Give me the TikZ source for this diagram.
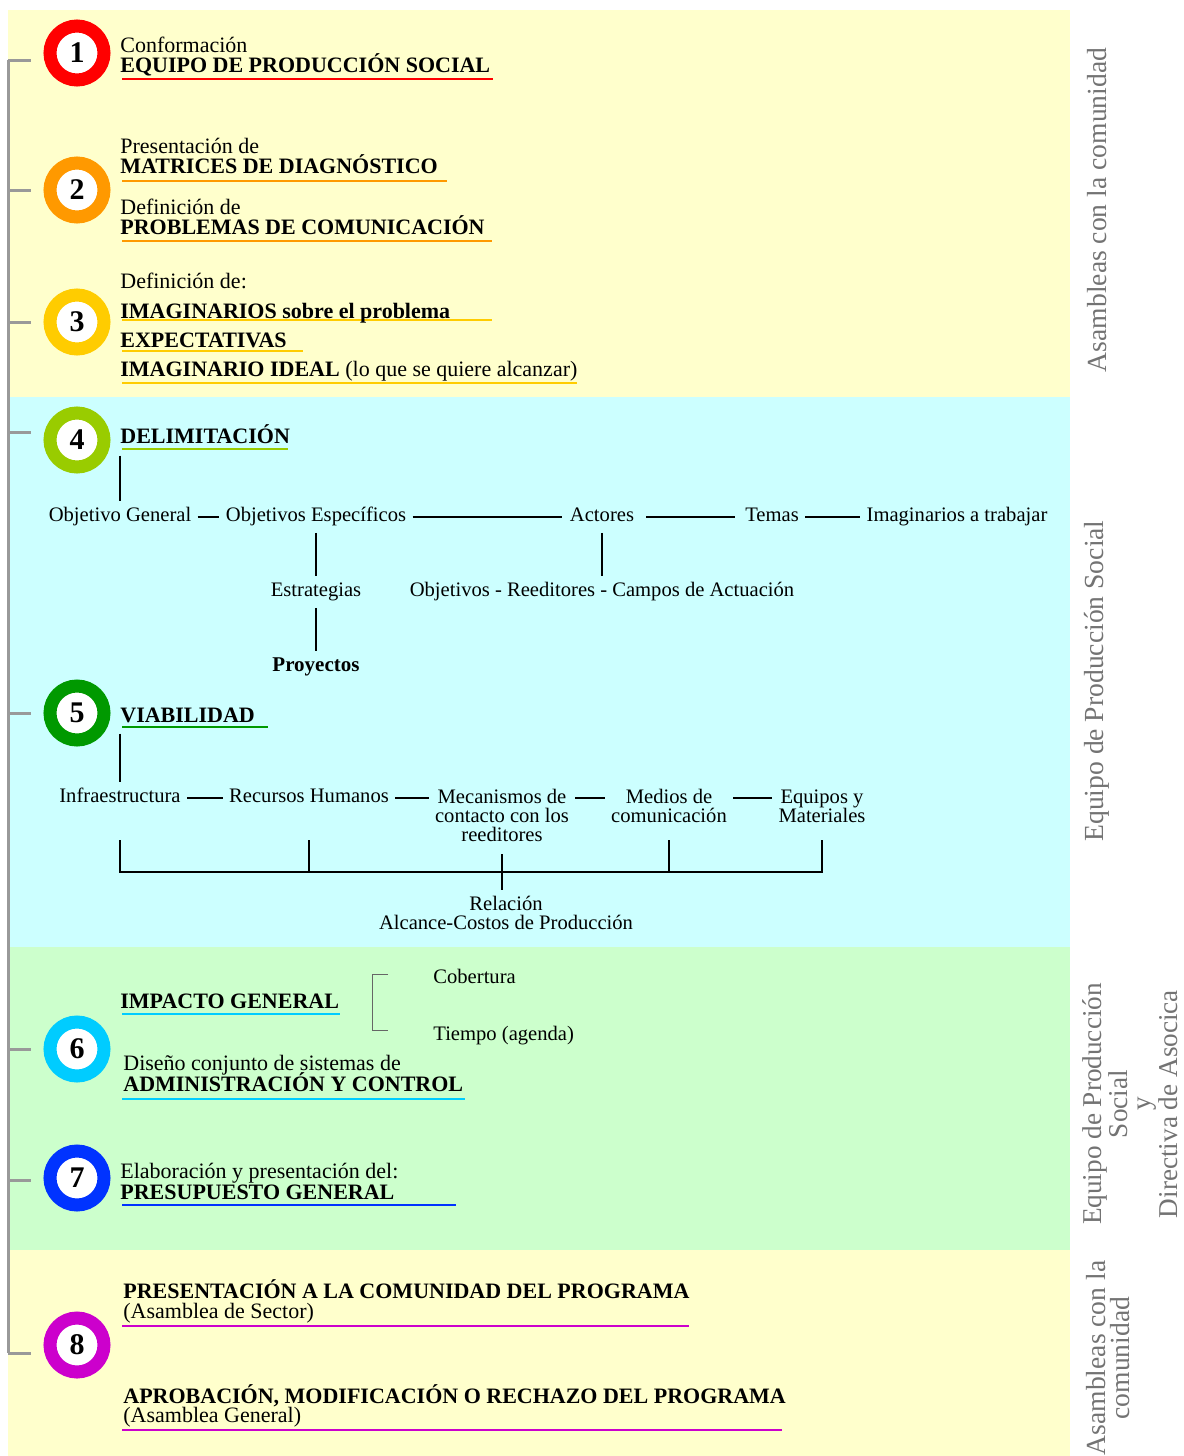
\documentclass[tikz,border=0pt]{standalone}
\usepackage{fontspec}
\setmainfont{Liberation Serif}
\definecolor{amarillo}{HTML}{FFFFCC}
\definecolor{celeste}{HTML}{CCFFFF}
\definecolor{verdeclaro}{HTML}{CCFFCC}
\definecolor{rojo}{HTML}{FF0000}
\definecolor{naranja}{HTML}{FF9900}
\definecolor{oro}{HTML}{FFCC00}
\definecolor{lima}{HTML}{99CC00}
\definecolor{verde}{HTML}{009900}
\definecolor{cian}{HTML}{00CCFF}
\definecolor{azul}{HTML}{0033FF}
\definecolor{magenta}{HTML}{CC00CC}
\tikzset{
    paso/.style={circle,draw=#1,line width=6.5pt,fill=white,minimum size=27pt,inner sep=0pt,font=\fontsize{15}{15}\selectfont\bfseries},
    txt/.style={anchor=base west,inner sep=0pt,font=\fontsize{11}{13}\selectfont},
    tit/.style={anchor=base west,inner sep=0pt,font=\fontsize{11}{13}\selectfont\bfseries},
    subr/.style={line width=1pt,draw=#1},
    elem/.style={font=\fontsize{10.3}{9.5}\selectfont,inner sep=3pt,text height=7pt,text depth=2.5pt},
    elemm/.style={font=\fontsize{10.3}{9.5}\selectfont,inner sep=3pt,align=center,anchor=north},
    linea/.style={line width=0.7pt},
    llave/.style={line width=0.5pt,draw=black!60},
    lado/.style={rotate=90,text=black!55,font=\fontsize{13.8}{12}\selectfont,align=center},
    tronco/.style={line width=1.5pt,draw=black!40}
}
\begin{document}
\begin{tikzpicture}[x=0.5pt,y=-0.5pt]
        \useasboundingbox(0,0)rectangle(1183,1456);
        \fill[amarillo](8,10)rectangle(1070,397);
        \fill[celeste](8,397)rectangle(1070,947);
        \fill[verdeclaro](8,947)rectangle(1070,1250);
        \fill[amarillo](8,1250)rectangle(1070,1456);
        \draw[tronco](8,60)--(8,1353);
        \foreach \n/\y/\c in {1/53/rojo,2/190/naranja,3/322/oro,4/440/lima,5/713/verde,6/1049/cian,7/1178/azul,8/1345/magenta}
            {
                \node[paso=\c] (c\n) at (77,\y) {\n};
            }
        \foreach \n/\y in {1/60,2/190,3/322,4/432,5/713,6/1049,7/1180,8/1353}
            {
                \draw[tronco,shorten >=6.25pt](8,\y)--(c\n.west |- 8,\y);
            }
        \foreach \c/\y/\xb in {rojo/79/493,naranja/181/447,naranja/241/492,oro/320/492,oro/351/303,oro/383/577,lima/449/288,verde/727/268,cian/1014/340,cian/1099/465,azul/1205/456,magenta/1326/689,magenta/1430/782}
            {
                \draw[subr=\c](122,\y)--(\xb,\y);
            }
        \node[txt] (t1a) at (120,52) {Conformación};
        \node[tit] (t1b) at (120,72) {EQUIPO DE PRODUCCIÓN SOCIAL};
        \node[txt] (t2a) at (120,153) {Presentación de};
        \node[tit] (t2b) at (120,173) {MATRICES DE DIAGNÓSTICO};
        \node[txt] (t2c) at (120,214) {Definición de};
        \node[tit] (t2d) at (120,234) {PROBLEMAS DE COMUNICACIÓN};
        \node[txt] (t3a) at (120,288) {Definición de:};
        \node[tit] (t3b) at (120,318) {IMAGINARIOS sobre el problema};
        \node[tit] (t3c) at (120,347) {EXPECTATIVAS};
        \node[tit] (t3d) at (120,376) {IMAGINARIO IDEAL \textmd{(lo que se quiere alcanzar)}};
        \node[tit] (t4) at (120,443) {DELIMITACIÓN};
        \node[elem] (og) at (120,517) {Objetivo General};
        \node[elem] (oe) at (316,517) {Objetivos Específicos};
        \node[elem] (act) at (602,517) {Actores};
        \node[elem] (tem) at (772,517) {Temas};
        \node[elem] (ima) at (957,517) {Imaginarios a trabajar};
        \node[elem] (est) at (316,592) {Estrategias};
        \node[elem,font=\fontsize{10.5}{9.5}\selectfont\bfseries] (proy) at (316,667) {Proyectos};
        \node[elem] (ore) at (602,592) {Objetivos - Reeditores - Campos de Actuación};
        \draw[linea]([yshift=-6pt]t4.south west)--(og);
        \draw[linea](og)--(oe);
        \draw[linea,shorten >=1pt](oe)--(act);
        \draw[linea,shorten <=3pt,shorten >=2pt](act)--(tem);
        \draw[linea](tem)--(ima);
        \draw[linea](oe)--(est);
        \draw[linea](est)--(proy);
        \draw[linea](act)--(ore);
        \node[tit] (t5) at (120,722) {VIABILIDAD};
        \node[elem] (inf) at (120,798) {Infraestructura};
        \node[elem] (rh) at (309,798) {Recursos Humanos};
        \node[elemm] (mec) at (502,783) {Mecanismos de\\contacto con los\\reeditores};
        \node[elemm] (med) at (669,783) {Medios de\\comunicación};
        \node[elemm] (eqm) at (822,783) {Equipos y\\Materiales};
        \node[elemm] (rel) at (506,890) {Relación\\Alcance-Costos de Producción};
        \draw[linea]([yshift=-5.5pt]t5.south west)--(inf);
        \draw[linea](inf)--(rh);
        \draw[linea](rh)--(mec.west |- rh);
        \draw[linea](mec.east |- rh)--(med.west |- rh);
        \draw[linea](med.east |- rh)--(eqm.west |- rh);
        \draw[linea](inf |- 0,840)--(inf |- 0,872)--(eqm |- 0,872)--(eqm |- 0,840);
        \draw[linea](rh |- 0,840)--(rh |- 0,872);
        \draw[linea](med |- 0,840)--(med |- 0,872);
        \draw[linea,shorten <=3pt](mec.south)--(mec.south |- rel.north);
        \node[tit] (t6a) at (120,1008) {IMPACTO GENERAL};
        \node[txt,font=\fontsize{10.3}{12}\selectfont] (cob) at (433,983) {Cobertura};
        \node[txt,font=\fontsize{10.3}{12}\selectfont] (tie) at (433,1040) {Tiempo (agenda)};
        \draw[llave](388,974)--(372,974)--(372,1030)--(388,1030);
        \node[txt] (t6b) at (123,1070) {Diseño conjunto de sistemas de};
        \node[tit] (t6c) at (123,1091) {ADMINISTRACIÓN Y CONTROL};
        \node[txt] (t7a) at (120,1178) {Elaboración y presentación del:};
        \node[tit] (t7b) at (120,1199) {PRESUPUESTO GENERAL};
        \node[tit] (t8a) at (123,1298) {PRESENTACIÓN A LA COMUNIDAD DEL PROGRAMA};
        \node[txt] (t8b) at (123,1318) {(Asamblea de Sector)};
        \node[tit] (t8c) at (123,1403) {APROBACIÓN, MODIFICACIÓN O RECHAZO DEL PROGRAMA};
        \node[txt] (t8d) at (123,1422) {(Asamblea General)};
        \node[lado] (l1) at (1097,210) {Asambleas con la comunidad};
        \node[lado] (l2) at (1097,681) {Equipo de Producción Social};
        \node[lado,font=\fontsize{13.6}{11.6}\selectfont] (l3) at (1130,1104) {Equipo de Producción\\Social\\y\\Directiva de Asocica};
        \node[lado] (l4) at (1108,1358) {Asambleas con la\\comunidad};
    \end{tikzpicture}
\end{document}
